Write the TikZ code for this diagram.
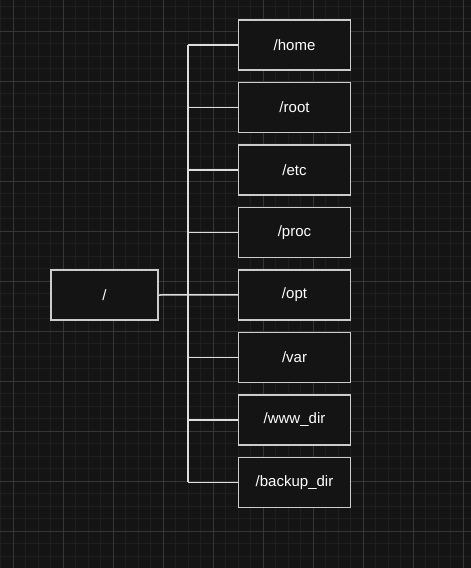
\documentclass[tikz,border=0pt]{standalone}
\usepackage{fontspec}
\setmainfont{Liberation Sans}
\definecolor{bgc}{HTML}{141414}
\definecolor{minorc}{HTML}{1F1F1F}
\definecolor{majorc}{HTML}{363636}
\definecolor{boxc}{HTML}{CCCCCC}
\definecolor{linec}{HTML}{DDDDDD}
\begin{document}
\begin{tikzpicture}[x=1pt,y=-1pt,
  dirbox/.style={draw=boxc, fill=bgc, line width=1.5pt, minimum width=112pt, minimum height=50pt, inner sep=0pt, text=white, font=\fontsize{15}{18}\selectfont},
  rootbox/.style={dirbox, minimum width=107pt},
  conn/.style={draw=linec, line width=1.5pt}]
\fill[bgc] (0,0) rectangle (471,568);
\useasboundingbox (0,0) rectangle (471,568);
\foreach \x in {0.5,13,...,471} \draw[minorc, line width=1pt] (\x,0) -- (\x,568);
\foreach \y in {6,18.5,...,568} \draw[minorc, line width=1pt] (0,\y) -- (471,\y);
\foreach \x in {13,63,...,471} \draw[majorc, line width=1pt] (\x,0) -- (\x,568);
\foreach \y in {31,81,...,568} \draw[majorc, line width=1pt] (0,\y) -- (471,\y);
\coordinate (trunk) at (188,0);
\node[rootbox] (root) at (104.5,295) {/};
\node[dirbox] (home) at (294.5,45) {/home};
\node[dirbox] (rootdir) at (294.5,107.3) {/root};
\node[dirbox] (etc) at (294.5,169.8) {/etc};
\node[dirbox] (proc) at (294.5,232.3) {/proc};
\node[dirbox] (opt) at (294.5,294.8) {/opt};
\node[dirbox] (var) at (294.5,357.3) {/var};
\node[dirbox] (www) at (294.5,419.8) {/www\_dir};
\node[dirbox] (backup) at (294.5,482.3) {/backup\_dir};
\draw[conn] (trunk|-home.west) -- (trunk|-backup.west);
\draw[conn] (root.east) -- (opt.west);
\foreach \n in {home,rootdir,etc,proc,var,www,backup}
  \draw[conn] (trunk|-\n.west) -- (\n.west);
\end{tikzpicture}
\end{document}
